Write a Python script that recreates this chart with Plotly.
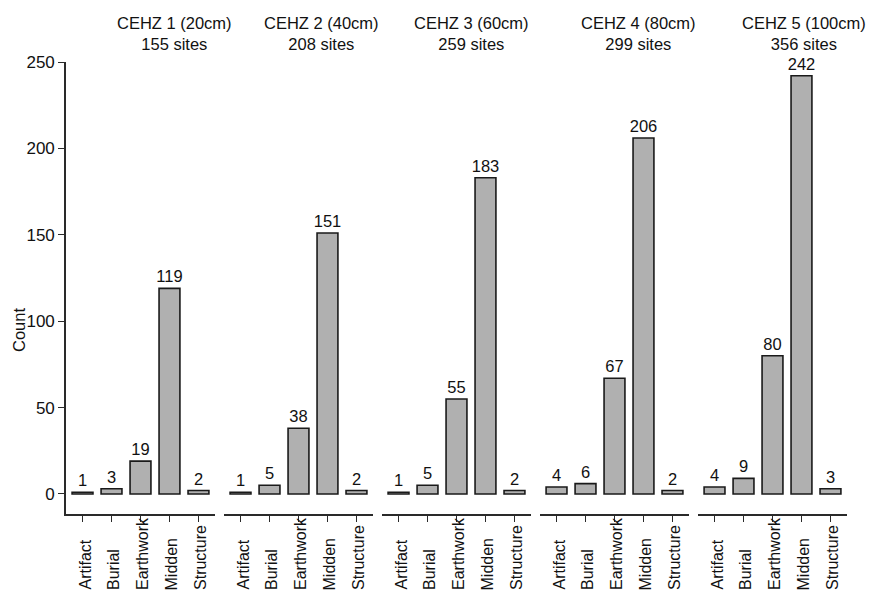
import plotly.graph_objects as go

# Site feature counts per cumulative elevation hazard zone
categories = ["Artifact", "Burial", "Earthwork", "Midden", "Structure"]
zone_names = ["CEHZ 1 (20cm)", "CEHZ 2 (40cm)", "CEHZ 3 (60cm)", "CEHZ 4 (80cm)", "CEHZ 5 (100cm)"]
zone_sites = [155, 208, 259, 299, 356]
zone1 = [1, 3, 19, 119, 2]
zone2 = [1, 5, 38, 151, 2]
zone3 = [1, 5, 55, 183, 2]
zone4 = [4, 6, 67, 206, 2]
zone5 = [4, 9, 80, 242, 3]
zone_counts = [zone1, zone2, zone3, zone4, zone5]
y_ticks = [0, 50, 100, 150, 200, 250]

# page geometry (pixels)
W, H = 869, 592
M_L, M_R, M_T, M_B = 66, 22, 62, 78
PLOT_W = W - M_L - M_R
PLOT_H = H - M_T - M_B
PANEL_W, PANEL_GAP = 149, 9
title_px = [174, 321, 471, 638, 804]

FONT = "Liberation Sans, Arial, sans-serif"
INK = "#111111"


def px_x(x):
    return (x - M_L) / PLOT_W


def px_y(y):
    return (H - M_B - y) / PLOT_H


fig = go.Figure()
annotations = []

for i, (counts, name, n_sites) in enumerate(zip(zone_counts, zone_names, zone_sites)):
    ax = "" if i == 0 else str(i + 1)
    start = M_L + i * (PANEL_W + PANEL_GAP)
    x0 = px_x(start)
    x1 = px_x(start + PANEL_W)

    fig.add_trace(go.Bar(
        x=categories, y=counts,
        xaxis="x" + ax, yaxis="y" + ax,
        width=0.72,
        marker=dict(color="#b0b0b0", line=dict(color="#1a1a1a", width=1.6)),
        text=[str(v) for v in counts],
        textposition="outside",
        constraintext="none",
        cliponaxis=False,
        textfont=dict(family=FONT, size=16.5, color=INK),
        hoverinfo="x+y",
        showlegend=False,
    ))

    fig.update_layout(**{
        "xaxis" + ax: dict(
            domain=[x0, x1], range=[-0.57, 4.57],
            anchor="y" + ax,
            showline=True, linecolor="#2a2a2a", linewidth=1.6,
            ticks="outside", ticklen=6, tickcolor="#2a2a2a", tickwidth=1,
            showticklabels=False, showgrid=False, zeroline=False,
            fixedrange=True,
        ),
        "yaxis" + ax: dict(
            domain=[0, 1], range=[-11.6, 250],
            anchor="x" + ax,
            showline=(i == 0), linecolor="#2a2a2a", linewidth=1.6,
            ticks="outside" if i == 0 else "", ticklen=6, tickcolor="#2a2a2a",
            tickvals=y_ticks, showticklabels=(i == 0),
            tickfont=dict(family=FONT, size=17, color=INK),
            showgrid=False, zeroline=False, fixedrange=True,
        ),
    })

    # category names, rotated and reading upward from the bottom edge
    for cat in categories:
        annotations.append(dict(
            x=cat, xref="x" + ax, y=px_y(592), yref="paper",
            text=cat, textangle=-90, showarrow=False,
            xanchor="center", yanchor="bottom", xshift=2,
            font=dict(family=FONT, size=16, color=INK),
        ))

    # two-line panel heading
    annotations.append(dict(
        x=px_x(title_px[i]), xref="paper", y=px_y(33), yref="paper",
        text=f"{name}<br>{n_sites} sites", showarrow=False,
        xanchor="center", yanchor="middle", align="center",
        font=dict(family=FONT, size=16.5, color=INK),
    ))

annotations.append(dict(
    x=px_x(19), xref="paper", y=px_y(330), yref="paper",
    text="Count", textangle=-90, showarrow=False,
    xanchor="center", yanchor="middle",
    font=dict(family=FONT, size=16.5, color=INK),
))

fig.update_layout(
    width=W, height=H,
    margin=dict(l=M_L, r=M_R, t=M_T, b=M_B),
    paper_bgcolor="white", plot_bgcolor="white",
    bargap=0.28,
    annotations=annotations,
    font=dict(family=FONT, color=INK),
)

fig.write_html("out.html")
